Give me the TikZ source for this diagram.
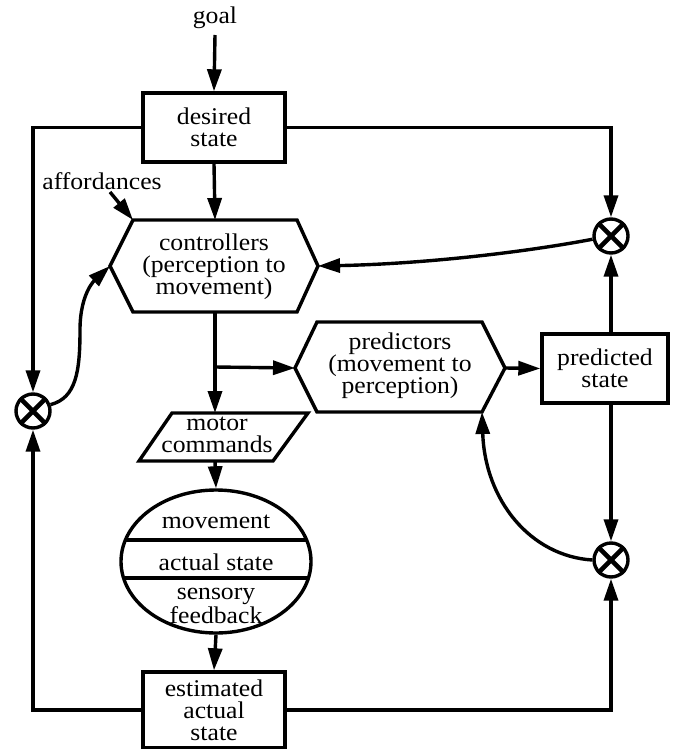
\documentclass[tikz,border=0pt]{standalone}
\usepackage{fontspec}
\setmainfont{Liberation Serif}[FakeStretch=1.07]
\usetikzlibrary{arrows.meta,shapes.geometric,calc}
\begin{document}
\begin{tikzpicture}[x=0.5pt,y=-0.5pt,
  line width=1.7pt,
  every node/.style={font=\fontsize{12}{11}\selectfont, align=center, inner sep=0pt},
  arr/.style={-{Triangle[length=11pt,width=7pt]}},
  box/.style={draw, rectangle},
  sumnode/.style={draw, circle, minimum size=17pt},
  crs/.style={line width=2.3pt}
]
\useasboundingbox (0,0) rectangle (675,749);

% text nodes
\node (goal) at (215,18) {goal};
\node (aff) at (102,181) {affordances};
\coordinate (affS) at (110,192);

% boxes
\node[box, minimum width=71pt, minimum height=34.5pt] (des) at (214,127.5) {desired\\state};
\node[box, minimum width=63pt, minimum height=34.5pt] (pred) at (605,368.5) {predicted\\state};
\node[box, minimum width=71pt, minimum height=38pt] (est) at (214,710) {estimated\\actual\\state};

% controllers hexagon
\coordinate (cL) at (110,266);
\coordinate (cTL) at (133,220);
\coordinate (cT) at (215,220);
\coordinate (cTR) at (297,220);
\coordinate (cR) at (318,266);
\coordinate (cBR) at (297,312);
\coordinate (cB) at (215,312);
\coordinate (cBL) at (133,312);
\draw (cL) -- (cTL) -- (cTR) -- (cR) -- (cBR) -- (cBL) -- cycle;
\node (ctrl) at (214,267) {controllers\\(perception to\\movement)};

% predictors hexagon
\coordinate (pL) at (295,368);
\coordinate (pTL) at (317,322);
\coordinate (pTR) at (482,322);
\coordinate (pR) at (505,368);
\coordinate (pBR) at (482,412);
\coordinate (pBL) at (317,412);
\draw (pL) -- (pTL) -- (pTR) -- (pR) -- (pBR) -- (pBL) -- cycle;
\node (prd) at (400,366) {predictors\\(movement to\\perception)};

% motor commands parallelogram
\coordinate (mBL) at (139,461);
\coordinate (mTL) at (172,413);
\coordinate (mTR) at (308,413);
\coordinate (mBR) at (273,461);
\coordinate (mT) at (215,413);
\coordinate (mB) at (215,461);
\draw (mBL) -- (mTL) -- (mTR) -- (mBR) -- cycle;
\node (mc) at (217,435) {motor\\commands};

% ellipse
\node[draw, ellipse, minimum width=95pt, minimum height=71.5pt] (mov) at (216,561.5) {};
\draw (125.1,540) -- (306.9,540);
\draw (123.7,578) -- (308.3,578);
\node at (216,522) {movement};
\node at (216,562) {actual state};
\node at (216,606) {sensory\\feedback};

% summing junctions
\node[sumnode] (sL) at (33,411) {};
\node[sumnode] (sR1) at (611,236) {};
\node[sumnode] (sR2) at (611,560) {};
\foreach \s in {sL,sR1,sR2}{
  \draw[crs] (\s.north east) -- (\s.south west) (\s.north west) -- (\s.south east);
}

% connectors
\draw[arr] (215,35) -- (des.north);
\draw[arr] (des.south) -- (cT);
\draw[arr] (affS) -- (cTL);
\draw[arr] (des.west) -| (sL.north);
\draw[arr] (des.east) -| (sR1.north);
\draw[arr] (cB) -- (mT);
\coordinate (br) at (215,367);
\draw[arr] (br) -- (pL);
\draw[arr] (pR) -- (pred.west);
\draw[arr] (sR1 |- pred.north) -- (sR1.south);
\draw[arr] (sR1 |- pred.south) -- (sR2.north);
\draw[arr] (est.east) -| (sR2.south);
\draw[arr] (est.west) -| (sL.south);
\draw[arr] (mB) -- (mov.north);
\draw[arr] (mov.south) -- (est.north);

% curved feedback connectors
\draw[arr] (sR1.190) .. controls (520,253) and (420,264) .. (cR);
\draw[arr] (sL.20) .. controls (76,398) and (80,372) .. (80,330)
  .. controls (80,292) and (96,279) .. (cL);
\draw[arr] (sR2.west) .. controls (530,556) and (485,500) .. (pBR);
\end{tikzpicture}
\end{document}
